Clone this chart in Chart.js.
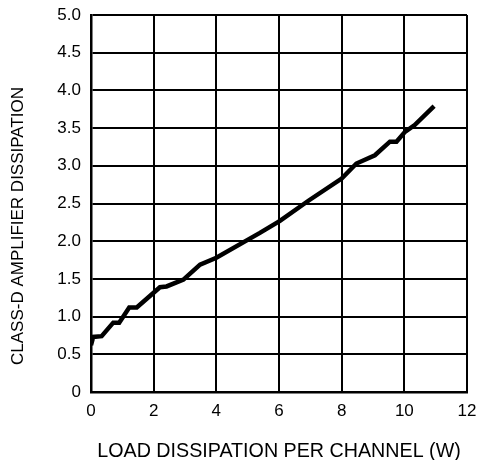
<!DOCTYPE html>
<html>
<head>
<meta charset="utf-8">
<script src="https://cdn.jsdelivr.net/npm/chart.js@4/dist/chart.umd.min.js"></script>
<style>
  html, body { margin: 0; padding: 0; background: #fff; }
  #wrap { width: 478px; height: 460px; }
</style>
</head>
<body>
<div id="wrap"><canvas id="dissChart" width="478" height="460"></canvas></div>
<script>
//Values (load W, amplifier W)
const loadWatts = [0, 0.07, 0.34, 0.71, 0.9, 1.22, 1.46, 2.2, 2.41, 2.95, 3.48, 4.0, 5.39, 6.03, 6.95, 8.0, 8.47, 9.06, 9.54, 9.75, 10.02, 10.33, 10.95];
const ampWatts  = [0.62, 0.73, 0.74, 0.92, 0.92, 1.12, 1.12, 1.39, 1.40, 1.49, 1.69, 1.78, 2.11, 2.27, 2.54, 2.83, 3.03, 3.14, 3.32, 3.32, 3.45, 3.54, 3.79];

const xTitle = 'LOAD DISSIPATION PER CHANNEL (W)';
const yTitle = 'CLASS-D AMPLIFIER DISSIPATION';

const family = "'Liberation Sans', Arial, sans-serif";
const tickFont = { family: family, size: 17 };

let points = loadWatts.map((x, i) => ({ x: x, y: ampWatts[i] }));

//The y title sits a bit below the middle of the axis in the original, so draw it by hand
const yTitlePlugin = {
    id: 'yTitle',
    afterDraw(chart) {
        const ctx = chart.ctx;
        ctx.save();
        ctx.translate(18, 226);
        ctx.rotate(-Math.PI / 2);
        ctx.font = '17px ' + family;
        ctx.fillStyle = '#000';
        ctx.textAlign = 'center';
        ctx.textBaseline = 'middle';
        ctx.fillText(yTitle, 0, 0);
        ctx.restore();
    }
};

new Chart(document.getElementById('dissChart'), {
    type: 'line',
    data: {
        datasets: [{
            data: points,
            borderColor: '#000',
            borderWidth: 4.5,
            pointRadius: 0,
            tension: 0,
            fill: false
        }]
    },
    options: {
        responsive: false,
        animation: false,
        layout: { padding: { top: 15, right: 11, left: 0, bottom: 0 } },
        plugins: { legend: { display: false }, tooltip: { enabled: false } },
        scales: {
            x: {
                type: 'linear',
                min: 0,
                max: 12,
                border: { color: '#000', width: 2.5 },
                grid: { color: '#000', lineWidth: 2, drawTicks: false },
                ticks: {
                    stepSize: 2,
                    color: '#000',
                    font: tickFont,
                    padding: 9,
                    maxRotation: 0
                },
                title: { display: true, text: xTitle, color: '#000', font: { family: family, size: 19.7 }, padding: { top: 21, bottom: -3 } },
                afterFit: (s) => { s.height = 68; s.paddingLeft = 0; s.paddingRight = 0; }
            },
            y: {
                type: 'linear',
                min: 0,
                max: 5,
                border: { color: '#000', width: 2.5 },
                grid: { color: '#000', lineWidth: 2, drawTicks: false },
                ticks: {
                    stepSize: 0.5,
                    color: '#000',
                    font: tickFont,
                    padding: 10,
                    callback: (v) => v === 0 ? '0' : v.toFixed(1)
                },
                title: { display: false },
                afterFit: (s) => { s.width = 91; s.paddingTop = 0; s.paddingBottom = 0; }
            }
        }
    },
    plugins: [yTitlePlugin]
});
</script>
</body>
</html>
